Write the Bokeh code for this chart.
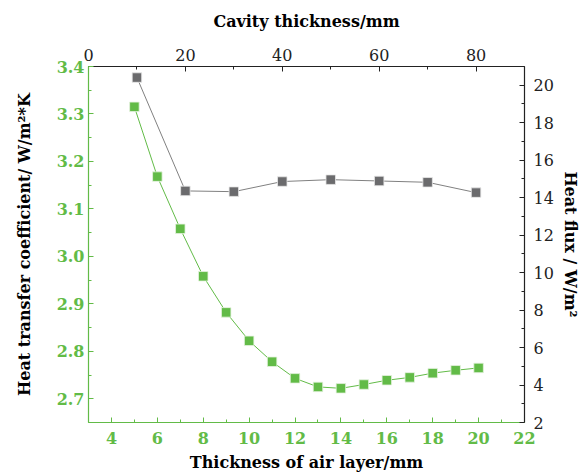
from bokeh.plotting import figure
from bokeh.models import Range1d, LinearAxis, FixedTicker, NumeralTickFormatter
from bokeh.embed import file_html
from bokeh.resources import INLINE

# Data
air_thickness = [5, 6, 7, 8, 9, 10, 11, 12, 13, 14, 15, 16, 17, 18, 19, 20]
heat_coeff = [3.315, 3.168, 3.058, 2.958, 2.882, 2.822, 2.778, 2.743, 2.725,
              2.722, 2.730, 2.739, 2.745, 2.754, 2.760, 2.765]
cavity_thickness = [10, 20, 30, 40, 50, 60, 70, 80]
heat_flux = [20.41, 14.36, 14.32, 14.86, 14.96, 14.89, 14.82, 14.27]

bottom_ticks = [4, 6, 8, 10, 12, 14, 16, 18, 20, 22]
left_ticks = [2.7, 2.8, 2.9, 3.0, 3.1, 3.2, 3.3, 3.4]
top_ticks = [0, 20, 40, 60, 80]
right_ticks = [2, 4, 6, 8, 10, 12, 14, 16, 18, 20]

GREEN = "#62bb47"
GRAY = "#6b6b6d"
FONT = "DejaVu Serif"

p = figure(width=582, height=474, output_backend="svg", toolbar_location=None,
           x_range=Range1d(3, 22), y_range=Range1d(2.65, 3.4),
           min_border_left=88, min_border_right=53, min_border_top=66, min_border_bottom=52)
p.extra_x_ranges = {"top": Range1d(0, 90)}
p.extra_y_ranges = {"right": Range1d(2, 21)}
p.outline_line_color = None
p.xgrid.visible = False
p.ygrid.visible = False

def style(ax, color, bold, label_color="black"):
    ax.axis_line_color = color
    ax.major_tick_line_color = color
    ax.minor_tick_line_color = color
    ax.major_tick_in = 5
    ax.major_tick_out = 0
    ax.minor_tick_in = 3
    ax.minor_tick_out = 0
    ax.major_label_text_color = color
    ax.major_label_text_font = FONT
    ax.major_label_text_font_size = "16px"
    ax.major_label_text_font_style = "bold" if bold else "normal"
    ax.axis_label_text_font = FONT
    ax.axis_label_text_font_style = "bold"
    ax.axis_label_text_font_size = "16px"
    ax.axis_label_text_color = label_color
    ax.axis_line_width = 1.2

xb = p.xaxis[0]
xb.ticker = FixedTicker(ticks=bottom_ticks, minor_ticks=[3, 5, 7, 9, 11, 13, 15, 17, 19, 21])
xb.axis_label = "Thickness of air layer/mm"
style(xb, GREEN, True)
xb.major_label_standoff = 9
xb.axis_label_standoff = 6

yl = p.yaxis[0]
yl.ticker = FixedTicker(ticks=left_ticks, minor_ticks=[2.65, 2.75, 2.85, 2.95, 3.05, 3.15, 3.25, 3.35])
yl.formatter = NumeralTickFormatter(format="0.0")
yl.axis_label = "Heat transfer coefficient/ W/m²*K"
style(yl, GREEN, True)
yl.major_label_standoff = 4
yl.axis_label_standoff = 20

xt = LinearAxis(x_range_name="top", axis_label="Cavity thickness/mm",
                ticker=FixedTicker(ticks=top_ticks, minor_ticks=[10, 30, 50, 70, 90]))
style(xt, "#222222", False)
xt.major_label_standoff = 6
xt.axis_label_standoff = 15
p.add_layout(xt, "above")

yr = LinearAxis(y_range_name="right", axis_label="Heat flux / W/m²",
                ticker=FixedTicker(ticks=right_ticks, minor_ticks=[3, 5, 7, 9, 11, 13, 15, 17, 19, 21]))
style(yr, "#222222", False)
yr.major_label_standoff = 9
yr.axis_label_standoff = 4
p.add_layout(yr, "right")

p.line(air_thickness, heat_coeff, line_color=GREEN, line_width=1)
p.scatter(air_thickness, heat_coeff, marker="square", size=9.5, fill_color=GREEN,
          line_color="#e6f3e0", line_width=0.8)

p.line(cavity_thickness, heat_flux, line_color="#808080", line_width=1,
       x_range_name="top", y_range_name="right")
p.scatter(cavity_thickness, heat_flux, marker="square", size=9.5, fill_color=GRAY,
          line_color="#e8e8e8", line_width=0.8, x_range_name="top", y_range_name="right")

open("out.html", "w").write(file_html(p, INLINE))
